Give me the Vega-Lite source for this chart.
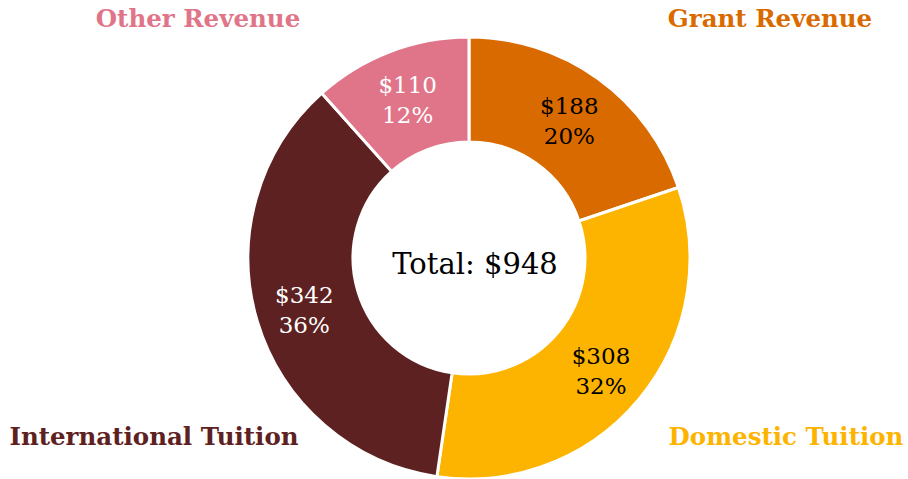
{
  "$schema": "https://vega.github.io/schema/vega-lite/v6.json",
  "autosize": {"type": "none"},
  "width": 878,
  "height": 442,
  "padding": {"left": 30, "top": 37, "right": 0, "bottom": 0},
  "background": "white",
  "config": {"view": {"stroke": null}},
  "datasets": {
    "rev": [
      {"category": "Grant Revenue", "value": 188, "idx": 1, "label": "$188\n20%"},
      {"category": "Domestic Tuition", "value": 308, "idx": 2, "label": "$308\n32%"},
      {"category": "International Tuition", "value": 342, "idx": 3, "label": "$342\n36%"},
      {"category": "Other Revenue", "value": 110, "idx": 4, "label": "$110\n12%"}
    ],
    "total": [{"text": "Total: $948"}]
  },
  "layer": [
    {
      "data": {"name": "rev"},
      "mark": {"type": "arc", "outerRadius": 221, "innerRadius": 116, "stroke": "white", "strokeWidth": 3},
      "encoding": {
        "theta": {"field": "value", "type": "quantitative", "stack": true},
        "order": {"field": "idx", "type": "quantitative"},
        "color": {
          "field": "category", "type": "nominal", "legend": null,
          "scale": {
            "domain": ["Grant Revenue", "Domestic Tuition", "International Tuition", "Other Revenue"],
            "range": ["#D96A00", "#FDB400", "#5E2121", "#E07589"]
          }
        }
      }
    },
    {
      "data": {"name": "rev"},
      "mark": {"type": "text", "radius": 172, "font": "DejaVu Serif", "fontSize": 23, "lineBreak": "\n", "lineHeight": 30, "align": "center", "baseline": "middle", "dy": -11},
      "encoding": {
        "theta": {"field": "value", "type": "quantitative", "stack": true},
        "order": {"field": "idx", "type": "quantitative"},
        "text": {"field": "label", "type": "nominal"},
        "color": {
          "field": "category", "type": "nominal", "legend": null,
          "scale": {
            "domain": ["Grant Revenue", "Domestic Tuition", "International Tuition", "Other Revenue"],
            "range": ["#000000", "#000000", "#FFFFFF", "#FFFFFF"]
          }
        }
      }
    },
    {
      "data": {"name": "rev"},
      "mark": {"type": "text", "font": "DejaVu Serif", "fontWeight": "bold", "fontSize": 24.5, "align": "center", "baseline": "middle"},
      "encoding": {
        "x": {
          "field": "idx", "type": "quantitative", "axis": null,
          "scale": {"domain": [1, 2, 3, 4], "range": [740, 756, 124, 168], "zero": false, "nice": false}
        },
        "y": {
          "field": "idx", "type": "quantitative", "axis": null,
          "scale": {"domain": [1, 2, 3, 4], "range": [-17, 401, 401, -17], "zero": false, "nice": false}
        },
        "text": {"field": "category", "type": "nominal"},
        "color": {
          "field": "category", "type": "nominal", "legend": null,
          "scale": {
            "domain": ["Grant Revenue", "Domestic Tuition", "International Tuition", "Other Revenue"],
            "range": ["#D96A00", "#FDB400", "#5E2121", "#E07589"]
          }
        }
      }
    },
    {
      "data": {"name": "total"},
      "mark": {"type": "text", "font": "DejaVu Serif", "fontSize": 29, "color": "black", "align": "center", "baseline": "middle", "dx": 6, "dy": 7},
      "encoding": {
        "text": {"field": "text", "type": "nominal"}
      }
    }
  ],
  "resolve": {"scale": {"color": "independent", "x": "independent", "y": "independent"}}
}
